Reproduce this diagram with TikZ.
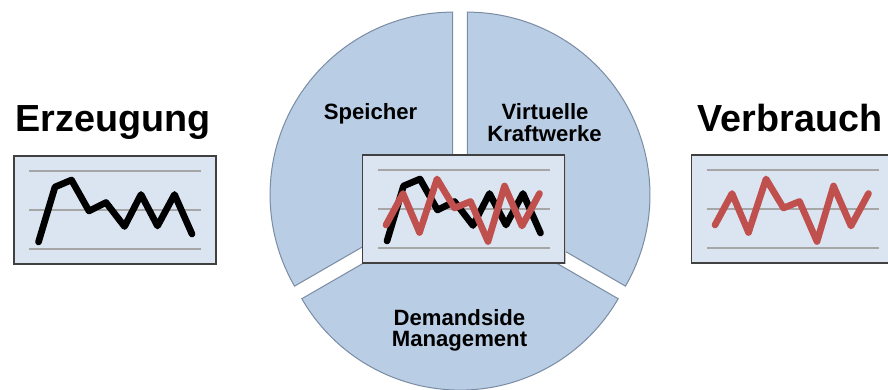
\documentclass[tikz,border=0pt]{standalone}
\usepackage{fontspec}
\setmainfont{Liberation Sans}
\definecolor{sectorfill}{HTML}{B9CDE5}
\definecolor{sectorline}{HTML}{7A8CA3}
\definecolor{boxfill}{HTML}{DBE5F1}
\definecolor{boxline}{HTML}{404040}
\definecolor{gridgray}{HTML}{A6A6A6}
\definecolor{redline}{HTML}{C0504D}
\tikzset{
  sector/.style={fill=sectorfill, draw=sectorline, line width=0.75pt, line join=miter},
  chartbox/.style={fill=boxfill, draw=boxline, line width=1.1pt},
  boxshadow/.style={fill=black!25, draw=none},
  gridline/.style={draw=gridgray, line width=0.9pt},
  blackcurve/.style={draw=black, line width=5pt, line join=round, line cap=round},
  redcurve/.style={draw=redline, line width=5pt, line join=round, line cap=round},
  titletext/.style={font=\bfseries\fontsize{28.3}{30}\selectfont, inner sep=0pt},
  sectortext/.style={font=\bfseries\fontsize{16.6}{16.4}\selectfont, inner sep=0pt, align=center},
}
\newcommand{\chartgrid}{%
  \draw[gridline] (15,-15) -- (187,-15);
  \draw[gridline] (15,-54) -- (187,-54);
  \draw[gridline] (15,-93) -- (187,-93);
}
\newcommand{\blackdata}{%
  \draw[blackcurve] (24.5,-86) -- (41,-31) -- (57.5,-24) -- (75,-55) -- (92,-46.5) -- (110.5,-70.5) -- (127,-38.5) -- (143.5,-70) -- (160.5,-38.5) -- (178,-78);
}
\newcommand{\reddata}{%
  \draw[redcurve] (23.5,-70) -- (40.5,-38.5) -- (57,-77.5) -- (74.5,-24) -- (92,-53) -- (108,-46.5) -- (125.5,-86.5) -- (142,-31) -- (159.5,-71) -- (177,-38.5);
}
\newcommand{\chartframe}[1]{%
  \fill[boxshadow] (1.2,-1.2) rectangle (203.2,-109.2);
  \draw[chartbox] (0,0) rectangle (202,-108);
  \coordinate (#1) at (101,-54);
}
\begin{document}
\begin{tikzpicture}[x=0.75pt, y=0.75pt]
  \useasboundingbox (0,0) rectangle (888,389);
  \clip (0,0) rectangle (888,389);
  \fill[white] (0,0) rectangle (888,389);

  % exploded pie
  \coordinate (cs) at (452.73,194.2);
  \coordinate (cv) at (467.27,194.2);
  \coordinate (cd) at (460,181.6);
  \draw[sector] (cs) -- ++(90:137.0pt) arc[start angle=90, end angle=210, radius=137.0pt] -- cycle;
  \draw[sector] (cv) -- ++(-30:137.0pt) arc[start angle=-30, end angle=90, radius=137.0pt] -- cycle;
  \draw[sector] (cd) -- ++(210:137.0pt) arc[start angle=210, end angle=330, radius=137.0pt] -- cycle;

  \node[sectortext, anchor=base] (speicher) at (370.5,269) {Speicher};
  \node[sectortext, anchor=base] (virtuelle) at (545,269) {Virtuelle};
  \node[sectortext, anchor=base] (kraftwerke) at (544.5,247.3) {Kraftwerke};
  \node[sectortext, anchor=base] (demandside) at (459.5,64) {Demandside};
  \node[sectortext, anchor=base] (management) at (459.5,42.3) {Management};

  % titles
  \node[titletext, anchor=base] (erzeugung) at (113,257) {Erzeugung};
  \node[titletext, anchor=base] (verbrauch) at (790,257) {Verbrauch};

  % left chart
  \begin{scope}[shift={(14,233)}]
    \chartframe{leftbox}
    \chartgrid
    \blackdata
  \end{scope}

  % centre chart
  \begin{scope}[shift={(362.5,234)}]
    \chartframe{centerbox}
    \chartgrid
    \blackdata
    \reddata
  \end{scope}

  % right chart
  \begin{scope}[shift={(691.5,234)}]
    \chartframe{rightbox}
    \chartgrid
    \reddata
  \end{scope}
\end{tikzpicture}
\end{document}
